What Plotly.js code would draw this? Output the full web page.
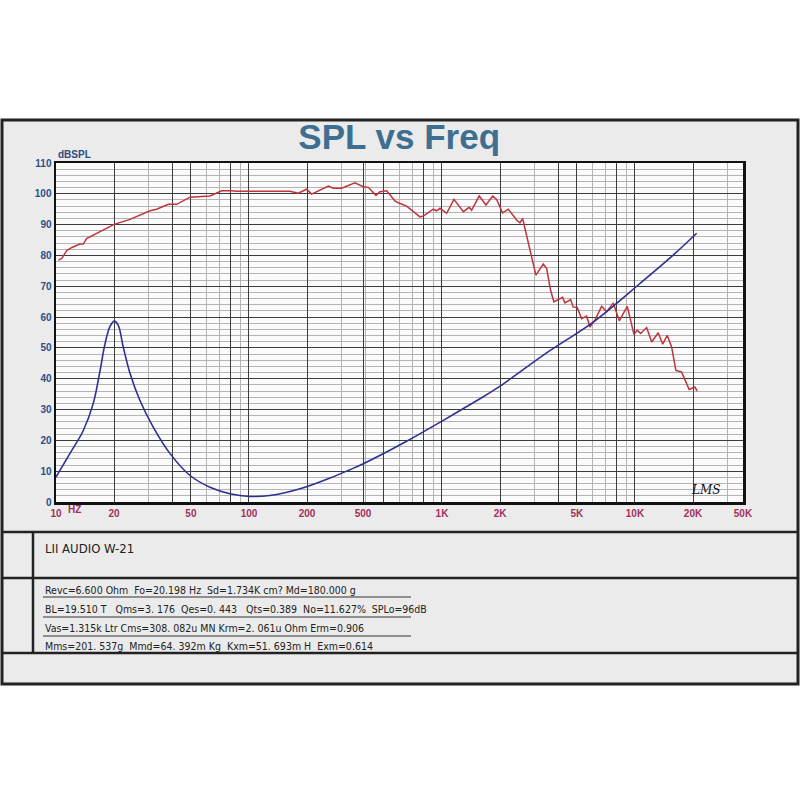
<!DOCTYPE html>
<html>
<head>
<meta charset="utf-8">
<script src="https://cdn.plot.ly/plotly-3.0.1.min.js"></script>
<style>
html,body{margin:0;padding:0;background:#fff;}
#chart{width:800px;height:800px;}
</style>
</head>
<body>
<div id="chart"></div>
<script>
// ---- data ----
const splFreq = [10.3,10.7,11.4,12.1,13.3,13.85,14.4,16.9,20.0,24.2,30.7,33.2,38.2,42.2,49.5,62.8,72.2,81.3,86.3,163,180,199,211,258,273,302,354,391,415,455,477,517,571,594,656,769,800,902,939,977,1058,1154,1290,1385,1425,1560,1690,1832,1920,2062,2206,2438,2536,2618,3069,3350,3486,3656,3802,4217,4335,4642,4786,5020,5293,5620,5845,6206,6720,7134,7722,8295,9125,9885,10280,10710,11500,12210,13210,13930,14700,15490,16300,17450,19100,20450,21020];
const splDb = [78.5,79.0,81.7,82.6,83.7,83.7,85.5,87.7,90.1,91.7,94.5,95.0,96.6,96.6,98.9,99.3,101.0,101.0,100.8,100.8,100.2,101.5,99.9,102.5,101.8,101.8,103.6,102.3,102.1,99.5,100.7,101.0,97.7,97.1,96.0,92.5,92.8,95.0,94.5,95.3,93.7,98.2,94.2,95.6,94.7,99.3,96.4,99.3,98.2,93.8,95.0,91.5,90.6,92.0,73.6,77.2,75.8,68.7,64.9,66.4,64.6,65.7,63.3,63.1,59.5,60.3,56.8,59.0,63.5,61.7,64.6,58.8,63.5,54.4,55.7,54.7,56.6,51.9,54.9,51.2,54.1,50.3,42.7,42.2,36.5,37.3,36.0];

const impFreq = [10,11.8,13.85,15.6,16.9,17.9,19.0,20.0,21.0,22.3,24.2,27.2,31.9,39.0,49.5,62.8,79.7,101,128,184,263,334,391,656,1016,1265,1573,2000,3486,6080,10620,15780,20890];
const impVal  = [8.1,15.7,23.2,32.0,42.5,51.0,56.8,58.7,57.4,50.3,41.7,33.0,24.3,15.7,8.6,4.8,2.7,1.8,2.1,4.3,7.8,10.5,12.4,19.7,26.5,30.0,33.5,37.6,48.4,58.4,70.9,80.1,87.2];

const xTickVals = [10,20,40,50,80,100,200,390,500,800,1000,2000,4000,5000,8000,10000,20000,36300];
const xTickText = ['10','20','','50','','100','200','500','','','1K','2K','','5K','','10K','20K','50K'];
const yTickVals = [0,10,20,30,40,50,60,70,80,90,100,110];

const titleText = 'SPL vs Freq';
const yUnit = 'dBSPL';
const modelText = 'LII AUDIO W-21';
const paramLines = [
  'Revc=6.600 Ohm  Fo=20.198 Hz  Sd=1.734K cm? Md=180.000 g',
  'BL=19.510 T   Qms=3. 176  Qes=0. 443   Qts=0.389  No=11.627%  SPLo=96dB',
  'Vas=1.315k Ltr Cms=308. 082u MN Krm=2. 061u Ohm Erm=0.906',
  'Mms=201. 537g  Mmd=64. 392m Kg  Kxm=51. 693m H  Exm=0.614'
];

// ---- layout helpers (pixel -> paper) ----
const L = 56, R = 743, T = 163, B = 502;
const px = x => (x - L) / (R - L);
const py = y => (B - y) / (B - T);

const minorVals = [];
[10,100,1000,10000].forEach(d => { for (let k = 1; k <= 9; k++) minorVals.push(k*d); });

const traces = [
  {x: splFreq, y: splDb, type: 'scatter', mode: 'lines', line: {color: '#c0343c', width: 1.5}, hoverinfo: 'x+y'},
  {x: impFreq, y: impVal, type: 'scatter', mode: 'lines', line: {color: '#2e3190', width: 1.6, shape: 'spline', smoothing: 1.0}, hoverinfo: 'x+y'}
];

const narrow = "'Liberation Sans Narrow', 'Arial Narrow', 'DejaVu Sans Condensed', sans-serif";

const annotations = [
  {text: yUnit, xref: 'paper', yref: 'paper', x: px(56), y: py(155), xanchor: 'left', yanchor: 'middle', showarrow: false,
   font: {family: 'Arial, Liberation Sans, sans-serif', size: 10, color: '#2c4a80', weight: 'bold'}},
  {text: 'HZ', xref: 'paper', yref: 'paper', x: px(74), y: py(510), xanchor: 'center', yanchor: 'middle', showarrow: false,
   font: {family: 'Arial, Liberation Sans, sans-serif', size: 10, color: '#a3305c', weight: 'bold'}},
  {text: 'LMS', xref: 'paper', yref: 'paper', x: px(705), y: py(490), xanchor: 'center', yanchor: 'middle', showarrow: false,
   font: {family: 'DejaVu Serif, serif', size: 12, color: '#111', style: 'italic'}},
  {text: modelText, xref: 'paper', yref: 'paper', x: px(43), y: py(548), xanchor: 'left', yanchor: 'middle', showarrow: false,
   font: {family: narrow, size: 13, color: '#222'}}
];
const lineY = [590, 609, 628, 646];
paramLines.forEach((t, i) => annotations.push({
  text: t, xref: 'paper', yref: 'paper', x: px(43), y: py(lineY[i]), xanchor: 'left', yanchor: 'middle', showarrow: false,
  font: {family: narrow, size: 10.5, color: '#222'}
}));

const shapes = [
  {type: 'rect', xref: 'paper', yref: 'paper', x0: px(2), x1: px(798), y0: py(684), y1: py(120), layer: 'below',
   fillcolor: '#ebebeb', line: {color: '#222', width: 3}},
  {type: 'rect', xref: 'paper', yref: 'paper', x0: 0, x1: 1, y0: 0, y1: 1, layer: 'below',
   fillcolor: '#fbfbfb', line: {width: 0}},
];
[532, 578, 653].forEach(y => shapes.push({type: 'line', xref: 'paper', yref: 'paper', x0: px(2), x1: px(798), y0: py(y), y1: py(y), line: {color: '#222', width: 2.5}}));
shapes.push({type: 'line', xref: 'paper', yref: 'paper', x0: px(33), x1: px(33), y0: py(532), y1: py(653), line: {color: '#222', width: 2.5}});
[597, 617, 636].forEach(y => shapes.push({type: 'line', xref: 'paper', yref: 'paper', x0: px(43), x1: px(411), y0: py(y), y1: py(y), line: {color: '#333', width: 1.2}}));

const layout = {
  width: 800, height: 800,
  margin: {l: L, r: 800 - R, t: T, b: 800 - B, pad: 0},
  paper_bgcolor: '#ffffff', plot_bgcolor: '#fbfbfb',
  showlegend: false,
  title: {text: titleText, x: 0.499, xanchor: 'center', xref: 'container', y: 1 - 137/800, yanchor: 'middle', yref: 'container',
    font: {family: 'Arial, Liberation Sans, sans-serif', size: 35, color: '#3e6f91', weight: 'bold'}},
  xaxis: {
    type: 'log', range: [1, 4.56], tickmode: 'array', tickvals: xTickVals, ticktext: xTickText,
    ticks: '', showgrid: true, gridcolor: '#3c3c3c', gridwidth: 1, zeroline: false,
    showline: true, mirror: true, linecolor: '#111', linewidth: 2.5,
    tickfont: {family: 'Arial, Liberation Sans, sans-serif', size: 10, color: '#a3305c', weight: 'bold'},
    minor: {tickvals: minorVals, showgrid: true, gridcolor: '#b4b4b4', gridwidth: 1, ticks: ''}
  },
  yaxis: {
    range: [0, 110], tickmode: 'array', tickvals: yTickVals,
    ticks: '', showgrid: true, gridcolor: '#3c3c3c', gridwidth: 1, zeroline: false,
    showline: true, mirror: true, linecolor: '#111', linewidth: 2.5,
    tickfont: {family: 'Arial, Liberation Sans, sans-serif', size: 10, color: '#2f4f85', weight: 'bold'},
    minor: {dtick: 2, showgrid: true, gridcolor: '#b4b4b4', gridwidth: 1, ticks: ''}
  },
  annotations: annotations,
  shapes: shapes
};

Plotly.newPlot('chart', traces, layout, {displayModeBar: false, staticPlot: true});
</script>
</body>
</html>
